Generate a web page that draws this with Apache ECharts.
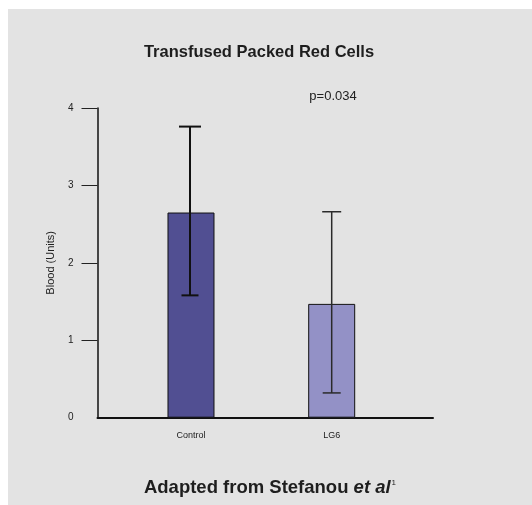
<!DOCTYPE html>
<html>
<head>
<meta charset="utf-8">
<script src="https://cdn.jsdelivr.net/npm/echarts@6/dist/echarts.min.js"></script>
<style>
  html, body { margin: 0; padding: 0; background: #ffffff; overflow: hidden; }
  #chart { width: 532px; height: 505px; }
</style>
</head>
<body>
<div id="chart"></div>
<script>
// Transfused packed red cells: group means with error bars
const categories = ['Control', 'LG6'];
const meanUnits = [2.65, 1.47];
const errLow = [1.58, 0.32];
const errHigh = [3.76, 2.66];
const barColors = ['#514f92', '#9391c6'];
const yTicks = [0, 1, 2, 3, 4];

const FONT = '"Liberation Sans", Arial, Helvetica, sans-serif';

const chart = echarts.init(document.getElementById('chart'), null, { renderer: 'canvas' });

const barData = categories.map((c, i) => ({
  value: [i, meanUnits[i]],
  itemStyle: { color: barColors[i] }
}));
const errData = categories.map((c, i) => [i, errLow[i], errHigh[i]]);

chart.setOption({
  animation: false,
  backgroundColor: '#ffffff',
  graphic: [
    { type: 'rect', z: -10, silent: true,
      shape: { x: 8, y: 9, width: 600, height: 600 },
      style: { fill: '#e3e3e3' } },
    { type: 'text', x: 259, y: 52,
      style: { text: 'Transfused Packed Red Cells', fontFamily: FONT, fontWeight: 'bold',
               fontSize: 16.5, fill: '#1e1e1e', align: 'center', verticalAlign: 'middle' } },
    { type: 'text', x: 333, y: 96,
      style: { text: 'p=0.034', fontFamily: FONT, fontSize: 13,
               fill: '#222222', align: 'center', verticalAlign: 'middle' } },
    { type: 'text', x: 270, y: 488,
      style: {
        text: '{a|Adapted from Stefanou }{b|et al}{c|1}',
        fontFamily: FONT, align: 'center', verticalAlign: 'middle', fill: '#1e1e1e',
        rich: {
          a: { fontFamily: FONT, fontWeight: 'bold', fontSize: 18.5, fill: '#1e1e1e' },
          b: { fontFamily: FONT, fontWeight: 'bold', fontStyle: 'italic', fontSize: 18.5, fill: '#1e1e1e' },
          c: { fontFamily: FONT, fontSize: 8, fill: '#1e1e1e', verticalAlign: 'top', padding: [0, 0, 9, 1] }
        }
      } }
  ],
  grid: { left: 97.5, right: 99, top: 108, bottom: 87.3, containLabel: false },
  xAxis: {
    type: 'value',
    min: -0.6645,
    max: 1.72,
    splitLine: { show: false },
    axisTick: { show: false },
    axisLine: { show: true, onZero: false, lineStyle: { color: '#111111', width: 2 } },
    axisLabel: {
      customValues: [0, 1],
      formatter: v => categories[Math.round(v)],
      fontFamily: FONT, fontSize: 9, color: '#222222', margin: 13
    }
  },
  yAxis: {
    type: 'value',
    min: 0,
    max: 4,
    interval: 1,
    name: 'Blood (Units)',
    nameLocation: 'middle',
    nameRotate: 90,
    nameGap: 41,
    nameTextStyle: { fontFamily: FONT, fontSize: 11, color: '#222222' },
    splitLine: { show: false },
    axisLine: { show: true, onZero: false, lineStyle: { color: '#111111', width: 1.5 } },
    axisTick: { show: true, inside: false, length: 16, customValues: yTicks.slice(1),
                lineStyle: { color: '#222222', width: 1 } },
    axisLabel: { customValues: yTicks, fontFamily: FONT, fontSize: 10, color: '#222222', margin: 24 }
  },
  series: [
    {
      type: 'bar',
      data: barData,
      barWidth: 47,
      itemStyle: { borderColor: '#111111', borderWidth: 1 },
      z: 2
    },
    {
      type: 'custom',
      data: errData,
      z: 3,
      encode: { x: 0, y: [1, 2] },
      renderItem: function (params, api) {
        const i = api.value(0);
        const lo = api.coord([i, api.value(1)]);
        const hi = api.coord([i, api.value(2)]);
        const isFirst = params.dataIndex === 0;
        const capTop = isFirst ? 11 : 9.5;
        const capBot = isFirst ? 8.5 : 9;
        const style = { stroke: isFirst ? '#111111' : '#2a2a2a', lineWidth: isFirst ? 2 : 1.5 };
        const x = lo[0] - (isFirst ? 1 : 0);
        return {
          type: 'group',
          children: [
            { type: 'line', shape: { x1: x, y1: hi[1], x2: x, y2: lo[1] }, style },
            { type: 'line', shape: { x1: x - capTop, y1: hi[1], x2: x + capTop, y2: hi[1] }, style },
            { type: 'line', shape: { x1: x - capBot, y1: lo[1], x2: x + capBot, y2: lo[1] }, style }
          ]
        };
      }
    }
  ]
});
</script>
</body>
</html>
